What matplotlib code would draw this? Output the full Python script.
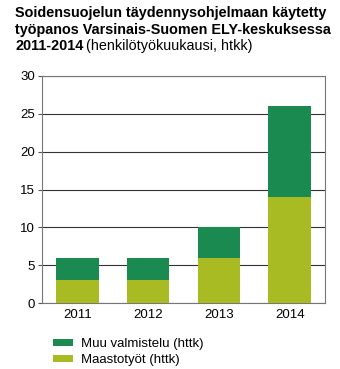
import matplotlib.pyplot as plt
import numpy as np

plt.rcParams['font.family'] = ['Liberation Sans', 'DejaVu Sans']

years = ['2011', '2012', '2013', '2014']
maastotyot = [3, 3, 6, 14]
muu_valmistelu = [3, 3, 4, 12]

dark_green = '#1a8a50'
light_green = '#a9bb23'

W, H = 340, 369
fig = plt.figure(figsize=(W / 100, H / 100), dpi=100)
ax = fig.add_axes([42 / W, 1 - 303 / H, 283 / W, 227 / H])

x = np.arange(len(years))
ax.bar(x, maastotyot, width=0.6, color=light_green, zorder=3,
       label='Maastotyöt (httk)')
ax.bar(x, muu_valmistelu, width=0.6, bottom=maastotyot, color=dark_green,
       zorder=3, label='Muu valmistelu (httk)')

ax.set_xlim(-0.5, 3.5)
ax.set_ylim(0, 30)
ax.set_yticks(range(0, 31, 5))
ax.set_xticks(x)
ax.set_xticklabels(years)
ax.tick_params(axis='y', length=3, width=0.8, color='#555555', labelsize=9.5, pad=2)
ax.tick_params(axis='x', length=0, labelsize=9.5, pad=4)
ax.grid(axis='y', color='#333333', linewidth=0.8, zorder=1)
for s in ax.spines.values():
    s.set_color('#777777')
    s.set_linewidth(0.8)

# title lines
title_fs = 10.4
fig.text(15 / W, 1 - 13 / H, 'Soidensuojelun täydennysohjelmaan käytetty',
         fontsize=title_fs, fontweight='bold', va='center', ha='left')
fig.text(15 / W, 1 - 30 / H, 'työpanos Varsinais-Suomen ELY-keskuksessa',
         fontsize=title_fs, fontweight='bold', va='center', ha='left')
t = fig.text(15 / W, 1 - 46 / H, '2011-2014', fontsize=title_fs,
             fontweight='bold', va='center', ha='left')
fig.canvas.draw()
bb = t.get_window_extent()
fig.text(bb.x1 / fig.bbox.width + 0.008, 1 - 46 / H,
         '(henkilötyökuukausi, htkk)', fontsize=title_fs, va='center', ha='left')

handles, labels = ax.get_legend_handles_labels()
fig.legend(handles[::-1], labels[::-1], loc='upper left',
           bbox_to_anchor=(53 / W, 1 - 338 / H), frameon=False,
           fontsize=9.5, handlelength=1.5, handleheight=0.5,
           handletextpad=0.6, labelspacing=0.3, borderaxespad=0, borderpad=0)

fig.savefig('out.png', dpi=100)
